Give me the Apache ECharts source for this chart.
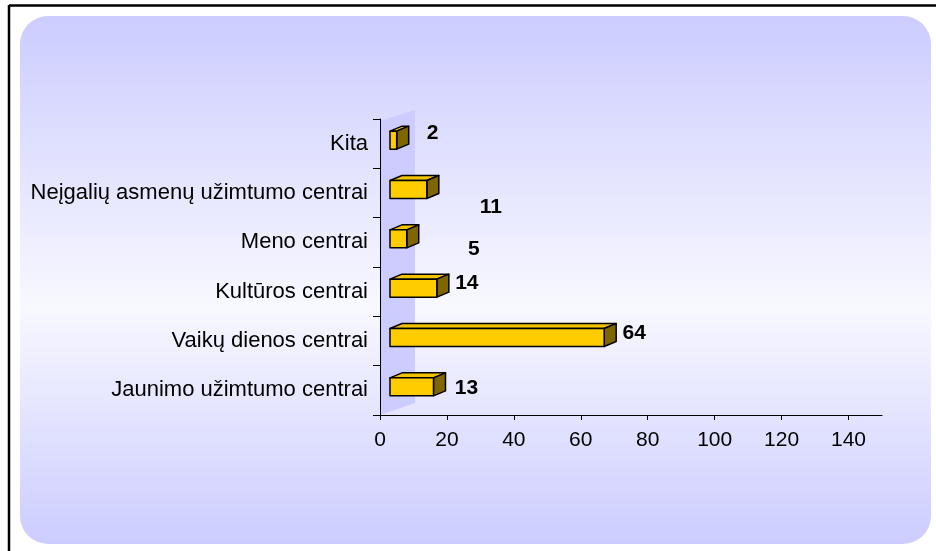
<!DOCTYPE html>
<html>
<head>
<meta charset="utf-8">
<script src="https://cdn.jsdelivr.net/npm/echarts@6/dist/echarts.min.js"></script>
<style>
html,body{margin:0;padding:0;background:#fff;}
#c{width:936px;height:551px;}
</style>
</head>
<body>
<div id="c"></div>
<script>
// ---- data ----
var categories = ['Jaunimo užimtumo centrai','Vaikų dienos centrai','Kultūros centrai','Meno centrai','Neįgalių asmenų užimtumo centrai','Kita'];
var values = [13, 64, 14, 5, 11, 2];
var xTicks = [0, 20, 40, 60, 80, 100, 120, 140];

// ---- styling (label nudges reproduce the original's label placement) ----
var labelNudge = [[21,1],[18,-4],[18,-5],[55,10],[52,18],[24,-7]];
var FRONT_SHIFT = 10, DEPTH_X = 12, DEPTH_Y = -5, BAR_H = 18, BAR_Y = -3.5;
var FONT = '"Liberation Sans", Arial, sans-serif';

var chart = echarts.init(document.getElementById('c'), null, {renderer:'canvas'});

function renderBar(params, api) {
  var idx = api.value(0);
  var v = api.value(1);
  var p0 = api.coord([0, idx]);
  var p1 = api.coord([v, idx]);
  var x0 = p0[0] + FRONT_SHIFT, x1 = p1[0] + FRONT_SHIFT;
  var cy = p0[1] + BAR_Y;
  var y0 = cy - BAR_H / 2, y1 = cy + BAR_H / 2;
  var dx = DEPTH_X, dy = DEPTH_Y;
  var stroke = {stroke:'#000', lineWidth:1.5, lineJoin:'round'};
  var n = labelNudge[params.dataIndex];
  return {
    type:'group',
    children:[
      {type:'polygon', shape:{points:[[x0,y0],[x0+dx,y0+dy],[x1+dx,y0+dy],[x1,y0]]},
       style:Object.assign({fill:'#F2C200'}, stroke)},
      {type:'polygon', shape:{points:[[x1,y0],[x1+dx,y0+dy],[x1+dx,y1+dy],[x1,y1]]},
       style:Object.assign({fill:'#806600'}, stroke)},
      {type:'rect', shape:{x:x0, y:y0, width:x1-x0, height:y1-y0},
       style:Object.assign({fill:'#FFCC00'}, stroke)},
      {type:'text', x:x1 + dx + n[0], y:cy + n[1],
       style:{text:String(v), fill:'#000', font:'bold 21px ' + FONT, align:'center', verticalAlign:'middle'}}
    ]
  };
}

var option = {
  backgroundColor:'#ffffff',
  animation:false,
  graphic:[
    {type:'rect', z:-30, shape:{x:20, y:16, width:911, height:528, r:28},
     style:{fill:new echarts.graphic.LinearGradient(0,0,0,1,[
       {offset:0, color:'#CCCCFF'},
       {offset:0.55, color:'#F8F8FF'},
       {offset:1, color:'#CCCCFF'}
     ])}},
    {type:'line', z:-25, shape:{x1:9, y1:5.5, x2:936, y2:5.5}, style:{stroke:'#000', lineWidth:2.5}},
    {type:'line', z:-25, shape:{x1:9, y1:5, x2:9, y2:551}, style:{stroke:'#000', lineWidth:2.5}},
    {type:'polygon', z:-20, shape:{points:[[380,121],[415,110],[415,403],[380,415]]},
     style:{fill:'#CCCCFF'}}
  ],
  grid:{left:380, right:54, top:119, bottom:136, containLabel:false},
  xAxis:{
    type:'value', min:0, max:150,
    splitLine:{show:false},
    axisLine:{show:true, lineStyle:{color:'#000', width:1}},
    axisTick:{show:true, length:5, lineStyle:{color:'#000'}, customValues:xTicks},
    axisLabel:{color:'#000', fontSize:21, fontFamily:FONT, margin:15, customValues:xTicks}
  },
  yAxis:{
    type:'category', data:categories,
    axisLine:{show:true, lineStyle:{color:'#000', width:1}},
    axisTick:{show:true, length:7, lineStyle:{color:'#000'}},
    axisLabel:{color:'#000', fontSize:22, fontFamily:FONT, margin:12}
  },
  series:[{
    type:'custom',
    renderItem:renderBar,
    encode:{x:1, y:0},
    data:values.map(function(v,i){return [i, v];}),
    z:5
  }]
};
chart.setOption(option);
</script>
</body>
</html>
